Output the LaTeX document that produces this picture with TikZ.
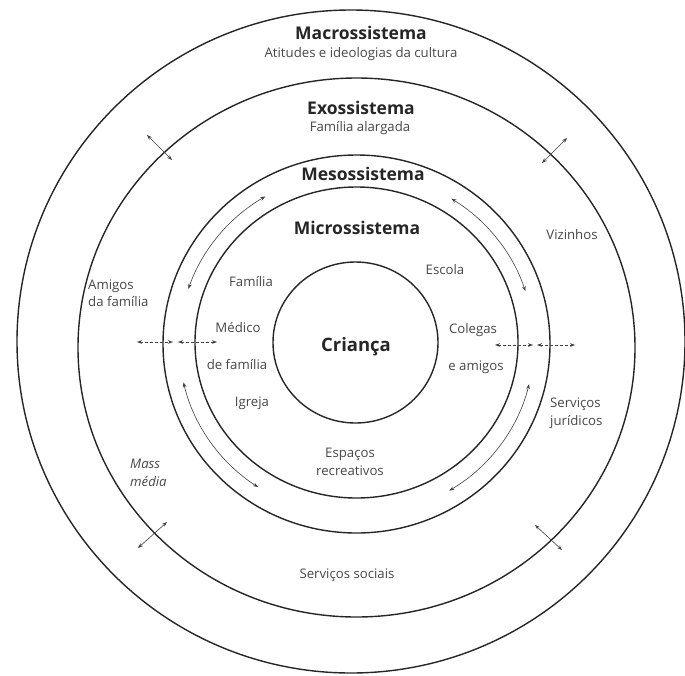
\documentclass[tikz,border=0pt]{standalone}
\usepackage{fontspec}
\setmainfont{Open Sans}
\usetikzlibrary{arrows.meta}
\begin{document}
\begin{tikzpicture}[x=1pt,y=-1pt,
  ring/.style={line width=1.4pt, draw=black!85},
  arr/.style={{Stealth[length=5pt,width=3.6pt]}-{Stealth[length=5pt,width=3.6pt]}, line width=0.6pt, draw=black!75},
  darr/.style={arr, densely dashed},
  lbl/.style={font=\fontsize{13.2}{17.5}\selectfont, text=black!72, inner sep=0pt, align=center},
  head/.style={font=\fontsize{17.5}{20}\selectfont\bfseries, text=black!85, inner sep=0pt}]
\useasboundingbox (0,0) rectangle (685,675);
% rings
\draw[ring] (351,341.5) ellipse [x radius=334pt, y radius=331.5pt];
\draw[ring] (356.5,347.5) ellipse [x radius=278.5pt, y radius=269.5pt];
\draw[ring] (356.5,344) ellipse [x radius=193.5pt, y radius=189pt];
\draw[ring] (356.5,342.5) ellipse [x radius=161.5pt, y radius=155.5pt];
\draw[ring] (355.5,342.5) ellipse [x radius=82.5pt, y radius=80.5pt];
% centre of the mesosystem band
\coordinate (mc) at (356.5,344);
% curved arrows in the mesosystem band
\draw[arr] ([shift={(120.9:177.5pt and 172pt)}]mc) arc[start angle=120.9, end angle=161.3, x radius=177.5pt, y radius=172pt];
\draw[arr] ([shift={(57.7:177.5pt and 172pt)}]mc) arc[start angle=57.7, end angle=17.9, x radius=177.5pt, y radius=172pt];
\draw[arr] ([shift={(192.9:177.5pt and 172pt)}]mc) arc[start angle=192.9, end angle=236.3, x radius=177.5pt, y radius=172pt];
\draw[arr] ([shift={(-13.5:177.5pt and 172pt)}]mc) arc[start angle=-13.5, end angle=-58.5, x radius=177.5pt, y radius=172pt];
% arrows across the exosystem ring
\coordinate (tla) at (147,135); \coordinate (tlb) at (172,160);
\coordinate (tra) at (567,138); \coordinate (trb) at (542,163);
\coordinate (bla) at (167,522); \coordinate (blb) at (138,548);
\coordinate (bra) at (535,525); \coordinate (brb) at (562,550);
\draw[arr] (tla) -- (tlb);
\draw[arr] (tra) -- (trb);
\draw[arr] (bla) -- (blb);
\draw[arr] (bra) -- (brb);
% horizontal arrows
\coordinate (l1a) at (137,342); \coordinate (l1b) at (173,342);
\coordinate (l2a) at (178,342); \coordinate (l2b) at (217,342);
\coordinate (r1a) at (495,345); \coordinate (r1b) at (533,345);
\coordinate (r2a) at (537,345); \coordinate (r2b) at (575,345);
\draw[darr] (l1a) -- (l1b);
\draw[darr] (l2a) -- (l2b);
\draw[darr] (r1a) -- (r1b);
\draw[darr] (r2a) -- (r2b);
% texts
\node[head] (macro) at (361,33) {Macrossistema};
\node[lbl] (macrod) at (361,54) {Atitudes e ideologias da cultura};
\node[head] (exo) at (361,108) {Exossistema};
\node[lbl] (exod) at (360,128) {Família alargada};
\node[head] (meso) at (363,174) {Mesossistema};
\node[head] (micro) at (357,228) {Microssistema};
\node[lbl] (escola) at (445,270) {Escola};
\node[lbl] (familia) at (251,282) {Família};
\node[head, font=\fontsize{18.5}{21}\selectfont\bfseries] (crianca) at (356,347) {Criança};
\node[lbl] (medico) at (238,328) {Médico};
\node[lbl] (defam) at (237,365) {de família};
\node[lbl] (igreja) at (252,403) {Igreja};
\node[lbl] (colegas) at (473,330) {Colegas};
\node[lbl] (eamigos) at (476,367) {e amigos};
\node[lbl] (vizinhos) at (572,235) {Vizinhos};
\node[lbl, align=left, anchor=west] (juridicos) at (550,413) {Serviços\\jurídicos};
\node[lbl, align=left, anchor=west] (amigos) at (88,293) {Amigos\\da família};
\node[lbl, align=left, anchor=west, font=\fontsize{13.2}{17.5}\selectfont\itshape] (mass) at (130,473) {Mass\\média};
\node[lbl] (espacos) at (350,462) {Espaços\\recreativos};
\node[lbl] (sociais) at (347,575) {Serviços sociais};
\end{tikzpicture}
\end{document}
